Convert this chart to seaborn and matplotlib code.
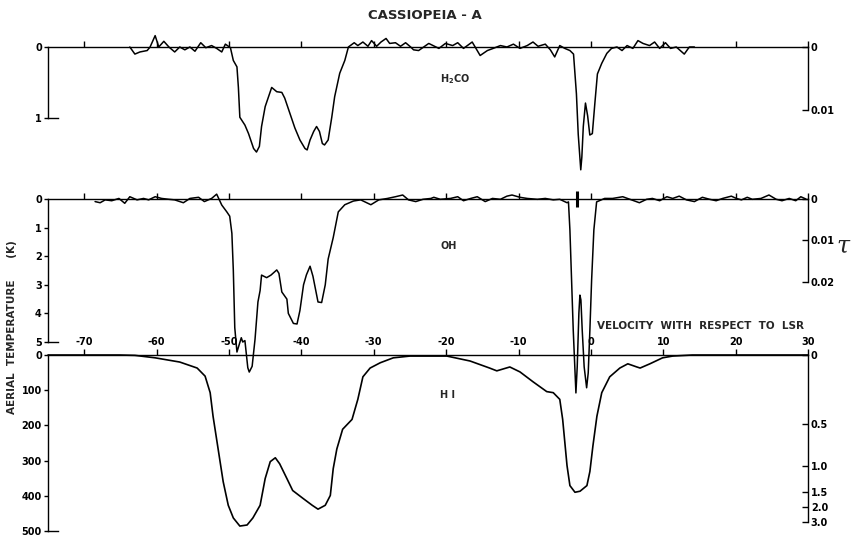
import numpy as np
import pandas as pd
import matplotlib
matplotlib.use("Agg")
import matplotlib.pyplot as plt
import seaborn as sns

# Velocities in km/s, depths (absorption drawn downwards)
h2co_v = [-63.7, -63.0, -62.3, -61.3, -60.9, -60.2, -59.7, -59.0, -58.3, -57.5,
          -56.8, -56.1, -55.4, -54.7, -53.9, -53.2, -52.4, -51.7, -51.0, -50.5,
          -49.8, -49.4, -48.9, -48.7, -48.5, -47.8, -47.3, -46.6, -46.2, -45.8,
          -45.5, -45.0, -44.1, -43.4, -42.7, -42.3, -41.6, -40.9, -40.2, -39.5,
          -39.2, -38.8, -38.3, -37.9, -37.5, -37.1, -36.8, -36.3, -35.8, -35.4,
          -34.7, -34.0, -33.5,
          -32.7, -32.2, -31.5, -30.8, -30.3, -29.6, -29.0, -28.3, -27.8, -27.0,
          -26.3, -25.6, -24.9, -24.5, -23.8, -23.1, -22.4, -21.0, -20.1, -19.1,
          -18.4, -17.6, -16.4, -15.3, -14.3, -13.5, -12.5, -11.6, -10.7, -9.8,
          -8.8, -8.0, -7.3, -6.3, -5.6, -5.0, -4.3, -3.6, -2.9,
          -2.4, -2.2, -2.0, -1.75, -1.4, -1.25, -1.05, -0.75, -0.45, -0.15,
          0.2, 0.55, 0.9, 1.5, 2.2, 2.85,
          3.6, 4.3, 5.0, 5.8, 6.5, 7.2, 8.1, 8.8, 9.5, 10.3, 11.0, 11.8, 12.9, 13.6, 14.3]
h2co_depth = [0.0, 0.10, 0.07, 0.05, 0.0, -0.16, 0.0, -0.08, 0.0, 0.07,
              0.0, 0.04, 0.0, 0.06, -0.06, 0.01, -0.02, 0.02, 0.07, -0.04,
              0.01, 0.19, 0.28, 0.57, 0.99, 1.10, 1.22, 1.43, 1.48, 1.40,
              1.12, 0.84, 0.57, 0.63, 0.64, 0.72, 0.93, 1.14, 1.31, 1.43,
              1.45, 1.31, 1.19, 1.12, 1.19, 1.36, 1.38, 1.31, 0.99, 0.70,
              0.37, 0.19, 0.0,
              -0.06, -0.02, -0.07, -0.01, -0.09, -0.01, -0.07, -0.12, -0.05, -0.06,
              -0.01, -0.06, 0.0, 0.04, 0.05, 0.0, -0.05, 0.02, -0.05, -0.02,
              -0.06, 0.02, -0.07, 0.12, 0.05, 0.02, -0.02, 0.0, -0.04, 0.02,
              -0.02, -0.07, -0.01, -0.04, 0.04, 0.14, -0.02, 0.02, 0.05,
              0.10, 0.38, 0.66, 1.23, 1.73, 1.55, 1.12, 0.79, 0.97, 1.24,
              1.22, 0.79, 0.38, 0.23, 0.09, 0.02,
              0.0, 0.05, -0.02, 0.02, -0.09, -0.05, -0.02, -0.07, 0.02, -0.06, 0.02, 0.0, 0.10, 0.0, 0.0]

oh_v = [-68.5, -67.8, -67.1, -66.2, -65.2, -64.4, -63.7, -62.7, -61.8, -61.1,
        -60.2, -59.3, -58.3, -57.5, -56.3, -55.4, -54.2, -53.4, -52.4, -51.7, -51.0,
        -50.3, -49.9, -49.6, -49.4, -49.2, -48.9, -48.3, -48.1, -47.8, -47.4,
        -47.2, -46.8, -46.4, -46.0, -45.7, -45.5, -45.2, -44.8, -44.2, -43.4,
        -43.1, -42.7, -42.0, -41.8, -41.1, -40.6, -40.2, -39.7, -39.3, -38.8,
        -38.4, -37.7, -37.2, -36.7, -36.3, -35.6, -34.9, -34.0, -32.8,
        -31.8, -30.4, -29.3, -28.1, -27.0, -26.0, -25.2, -24.2, -23.2, -22.1,
        -21.7, -20.8, -19.4, -18.4, -17.6, -16.6, -15.7, -14.6, -13.6, -12.5,
        -11.6, -10.9, -9.8, -8.8, -7.4, -6.3, -5.2, -4.3, -3.3, -3.1,
        -2.9, -2.67, -2.44, -2.21, -2.07, -1.89, -1.66, -1.52, -1.38, -1.2,
        -0.93, -0.59, -0.37, -0.14, 0.1, 0.41, 0.79,
        1.9, 3.0, 4.4, 5.6, 6.7, 7.7, 8.5, 9.5, 10.5, 11.3, 12.2, 13.2, 14.3,
        15.4, 16.4, 17.3, 18.2, 19.4, 20.1, 20.8, 21.6, 22.3, 23.5, 24.6,
        25.6, 26.4, 27.4, 28.3, 29.0, 29.7]
oh_depth = [0.09, 0.13, 0.03, 0.06, -0.02, 0.15, -0.08, 0.03, -0.02, 0.03,
            -0.08, -0.02, 0.01, 0.03, 0.13, -0.02, -0.06, 0.09, -0.02, -0.17, 0.21,
            0.45, 0.6, 1.2, 2.5, 4.5, 5.35, 4.85, 5.0, 4.95, 5.9,
            6.05, 5.85, 4.9, 3.6, 3.2, 2.66, 2.7, 2.75, 2.66, 2.48,
            2.6, 3.25, 3.5, 4.0, 4.35, 4.37, 3.9, 3.0, 2.65, 2.35,
            2.7, 3.6, 3.62, 3.0, 2.1, 1.35, 0.45, 0.2, 0.07,
            0.03, 0.2, 0.03, -0.02, -0.08, -0.14, 0.03, 0.09, 0.01, -0.02,
            -0.06, 0.01, -0.02, -0.08, 0.06, -0.02, -0.08, 0.09, -0.02, 0.01,
            -0.1, -0.14, -0.06, -0.02, 0.01, -0.02, 0.03, 0.01, 0.13, 0.1,
            1.08, 2.83, 4.58, 5.98, 6.78, 5.87, 3.99, 3.36, 3.53, 4.58,
            5.87, 6.6, 6.08, 4.58, 2.83, 1.08, 0.1,
            -0.02, -0.02, -0.08, 0.03, 0.13, 0.01, -0.02, 0.06, -0.08, -0.02, -0.1, 0.03, 0.09,
            -0.06, 0.01, 0.06, -0.02, -0.1, -0.02, 0.03, -0.06, 0.01, -0.02, -0.14,
            0.01, 0.06, -0.02, 0.06, -0.08, 0.0]

hi_v = [-75.0, -65.1, -63.0, -60.2, -56.8, -54.4, -53.3, -52.6, -52.2, -51.5,
        -50.8, -50.1, -49.4, -48.5, -47.5, -46.7, -45.7, -45.0, -44.3, -43.6,
        -43.0, -42.0, -41.2, -39.8, -38.5, -37.7, -36.7, -36.0, -35.6, -35.1,
        -34.3, -33.0, -32.2, -31.5, -30.5, -29.1, -27.3, -25.0, -19.9, -16.7,
        -14.0, -13.0, -11.2, -9.8, -8.0, -6.1, -5.2, -4.3, -3.9, -3.3,
        -2.9, -2.2, -1.5, -0.55, -0.14, 0.28, 0.83, 1.5, 2.6, 4.0,
        5.1, 6.35, 6.8, 8.15, 9.9, 11.3, 14.0, 30.0]
hi_temp = [0, 0, 1, 8, 20, 37, 60, 107, 174, 267,
           360, 427, 463, 486, 483, 463, 427, 351, 303, 292,
           309, 351, 385, 407, 427, 438, 427, 399, 323, 267,
           211, 183, 126, 62, 37, 22, 8, 3, 3, 17,
           37, 45, 34, 48, 76, 104, 107, 126, 183, 314,
           371, 390, 387, 371, 331, 258, 174, 107, 62, 37,
           25, 34, 37, 25, 8, 3, 0, 0]

vel_ticks = [-70, -60, -50, -40, -30, -20, -10, 0, 10, 20, 30]
vel_labels = ["-70", "-60", "-50", "-40", "-30", "-20", "-10", "0", "10", "20", "30"]
h2co_ticks = [0, 1]
h2co_tau_ticks = [0, 0.01]
h2co_tau_labels = ["0", "0.01"]
oh_ticks = [0, 1, 2, 3, 4, 5]
oh_tau_ticks = [0, 0.01, 0.02]
oh_tau_labels = ["0", "0.01", "0.02"]
hi_ticks = [0, 100, 200, 300, 400, 500]
hi_tau_ticks = [0, 0.5, 1.0, 1.5, 2.0, 3.0]
hi_tau_labels = ["0", "0.5", "1.0", "1.5", "2.0", "3.0"]
hi_spin_temp = 500
oh_marker_v = -1.9

sns.set_style("ticks")
plt.rcParams['font.family'] = ['DejaVu Sans']
plt.rcParams['font.weight'] = 'bold'
plt.rcParams['axes.linewidth'] = 1.0

fig = plt.figure(figsize=(8.53, 5.37), dpi=100)
fig.patch.set_facecolor("white")

ax1 = fig.add_axes([0.0563, 0.7803, 0.891, 0.1322])
ax2 = fig.add_axes([0.0563, 0.3631, 0.891, 0.2663])
ax3 = fig.add_axes([0.0563, 0.0112, 0.891, 0.3277])


def style_panel(ax, ylim, yticks, show_xlabels=False):
    ax.patch.set_visible(False)
    ax.set_xlim(-75, 30)
    ax.set_ylim(*ylim)
    ax.spines['right'].set_visible(False)
    ax.spines['bottom'].set_bounds(-75, -73.6)
    for s in ax.spines.values():
        s.set_color("black")
    ax.xaxis.set_ticks_position('top')
    ax.set_xticks(vel_ticks)
    ax.set_xticklabels(vel_labels if show_xlabels else [])
    ax.tick_params(axis='x', direction='out', length=4, width=1, colors='black',
                   labeltop=show_xlabels, labelbottom=False, pad=1.5, labelsize=7)
    ax.set_yticks(yticks)
    ax.tick_params(axis='y', direction='out', length=3, width=1, colors='black',
                   pad=1.5, labelsize=7)
    ax.set_xlabel("")
    ax.set_ylabel("")


def add_tau(ax, ylim, ticks, labels, bound):
    tw = ax.twinx()
    tw.set_ylim(*ylim)
    for s in ['left', 'top', 'bottom']:
        tw.spines[s].set_visible(False)
    tw.spines['right'].set_bounds(0, bound)
    tw.spines['right'].set_color("black")
    tw.set_yticks(ticks)
    tw.set_yticklabels(labels)
    tw.tick_params(axis='y', direction='in', length=4, width=1, colors='black',
                   pad=2, labelsize=7)
    return tw


h2co = pd.DataFrame({"v": h2co_v, "d": h2co_depth})
oh = pd.DataFrame({"v": oh_v, "d": oh_depth})
hi = pd.DataFrame({"v": hi_v, "d": hi_temp})

sns.lineplot(data=h2co, x="v", y="d", ax=ax1, color="black", lw=1.1,
             sort=False, estimator=None, clip_on=False)
sns.lineplot(data=oh, x="v", y="d", ax=ax2, color="black", lw=1.1,
             sort=False, estimator=None, clip_on=False)
ax2.plot([oh_marker_v], [0], marker="|", markersize=11, mew=2.2, color="black", clip_on=False)
sns.lineplot(data=hi, x="v", y="d", ax=ax3, color="black", lw=1.2,
             sort=False, estimator=None, clip_on=False)

style_panel(ax1, (1, 0), h2co_ticks)
style_panel(ax2, (5, 0), oh_ticks)
style_panel(ax3, (500, 0), hi_ticks, show_xlabels=True)

add_tau(ax1, (0.0113, 0), h2co_tau_ticks, h2co_tau_labels, 0.01)
add_tau(ax2, (0.0345, 0), oh_tau_ticks, oh_tau_labels, 0.02)
hi_tau_pos = [hi_spin_temp * (1 - np.exp(-t)) for t in hi_tau_ticks]
add_tau(ax3, (500, 0), hi_tau_pos, hi_tau_labels, hi_tau_pos[-1])

# labels
fig.text(0.498, 0.972, "CASSIOPEIA - A", ha="center", va="center", fontsize=9.5)
fig.text(0.516, 0.853, "H$_2$CO", ha="left", va="center", fontsize=7)
fig.text(0.516, 0.542, "OH", ha="left", va="center", fontsize=7)
fig.text(0.516, 0.264, "H I", ha="left", va="center", fontsize=7)
fig.text(0.700, 0.393, "VELOCITY  WITH  RESPECT  TO  LSR", ha="left", va="center", fontsize=7.5)
fig.text(0.014, 0.39, "AERIAL  TEMPERATURE      (K)", rotation=90, ha="center", va="center", fontsize=7.5)
fig.text(0.988, 0.542, "τ", ha="center", va="center", fontsize=17,
         family="DejaVu Serif", style="italic", fontweight="normal")

fig.savefig("out.png", dpi=100, facecolor="white")
